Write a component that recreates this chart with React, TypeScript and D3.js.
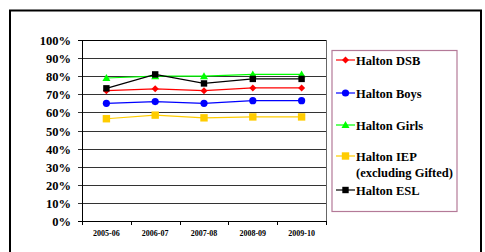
import React from 'react';
import * as d3 from 'd3';

const years = ['2005-06', '2006-07', '2007-08', '2008-09', '2009-10'];
const dsb = [72, 73, 72, 73.5, 73.5];
const boys = [65, 66, 65, 66.5, 66.5];
const girls = [79, 80, 80, 81, 81];
const iep = [56.5, 58.5, 57, 57.5, 57.5];
const esl = [73.3, 81, 76, 78.5, 78.5];
const yTicks = [0, 10, 20, 30, 40, 50, 60, 70, 80, 90, 100];

const series = [
  { name: ['Halton DSB'], values: dsb, color: '#ff0000', shape: 'diamond', ly: 60 },
  { name: ['Halton Boys'], values: boys, color: '#0000ff', shape: 'circle', ly: 93 },
  { name: ['Halton Girls'], values: girls, color: '#00ff00', shape: 'triangle', ly: 125 },
  { name: ['Halton IEP', '(excluding Gifted)'], values: iep, color: '#ffcc00', shape: 'square', ly: 156 },
  { name: ['Halton ESL'], values: esl, color: '#000000', shape: 'square2', ly: 190 },
];

const left = 82;
const right = 326;
const top = 40;
const bottom = 221;
const font = '"Liberation Serif", "Times New Roman", serif';

function Marker({ shape, x, y, color }: { shape: string; x: number; y: number; color: string }) {
  if (shape === 'diamond') {
    return <path d={`M${x},${y - 3.5}L${x + 3.5},${y}L${x},${y + 3.5}L${x - 3.5},${y}Z`} fill={color} />;
  }
  if (shape === 'circle') {
    return <circle cx={x} cy={y} r={3.6} fill={color} />;
  }
  if (shape === 'triangle') {
    return <path d={`M${x},${y - 4}L${x + 4},${y + 3}L${x - 4},${y + 3}Z`} fill={color} />;
  }
  if (shape === 'square') {
    return <rect x={x - 3.7} y={y - 3.7} width={7.4} height={7.4} fill={color} />;
  }
  return <rect x={x - 3.2} y={y - 3.2} width={6.4} height={6.4} fill={color} />;
}

export default function App() {
  const xScale = d3.scaleBand().domain(years).range([left, right]);
  const yScale = d3.scaleLinear().domain([0, 100]).range([bottom, top]);
  const line = d3
    .line<number>()
    .x((d, i) => (xScale(years[i]) as number) + xScale.bandwidth() / 2)
    .y((d) => yScale(d));

  const boundaries = years.map((y) => xScale(y) as number).concat([right]);

  return (
    <svg width={485} height={252} style={{ position: 'absolute', left: 0, top: 0 }} fontFamily={font}>
      <rect x={0} y={0} width={485} height={252} fill='#fff' />
      <rect x={10} y={10.5} width={471} height={260} fill='none' stroke='#000' strokeWidth={2} />

      {yTicks.map((t) => (
        <g key={t}>
          <line
            x1={left - 4}
            x2={right}
            y1={Math.round(yScale(t)) + 0.5}
            y2={Math.round(yScale(t)) + 0.5}
            stroke={t === 0 || t === 100 ? '#000' : '#333'}
            strokeWidth={1}
          />
          <text
            x={71}
            y={Math.round(yScale(t)) + 4.5}
            textAnchor='end'
            fontSize={12.5}
            fontWeight='bold'
          >
            {t + '%'}
          </text>
        </g>
      ))}
      <line x1={left + 0.5} x2={left + 0.5} y1={top} y2={bottom + 1} stroke='#000' />
      <line x1={right + 0.5} x2={right + 0.5} y1={top} y2={bottom + 1} stroke='#666' />
      {boundaries.map((b, i) => (
        <line key={i} x1={Math.round(b) + 0.5} x2={Math.round(b) + 0.5} y1={bottom} y2={bottom + 4} stroke='#000' />
      ))}
      {years.map((y) => (
        <text
          key={y}
          x={(xScale(y) as number) + xScale.bandwidth() / 2}
          y={236}
          textAnchor='middle'
          fontSize={8}
          fontWeight='bold'
        >
          {y}
        </text>
      ))}

      {series.map((s) => (
        <g key={s.name[0]}>
          <path d={line(s.values) || ''} fill='none' stroke={s.color} strokeWidth={1.2} />
          {s.values.map((v, i) => (
            <Marker
              key={i}
              shape={s.shape}
              x={(xScale(years[i]) as number) + xScale.bandwidth() / 2}
              y={yScale(v)}
              color={s.color}
            />
          ))}
        </g>
      ))}

      <rect x={332} y={50.5} width={125} height={161} fill='#fff' stroke='#b47a98' strokeWidth={1.2} />
      {series.map((s) => (
        <g key={'l' + s.name[0]}>
          <line x1={336} x2={355} y1={s.ly} y2={s.ly} stroke={s.color} strokeWidth={1.2} />
          <Marker shape={s.shape} x={345.5} y={s.ly} color={s.color} />
          {s.name.map((n, j) => (
            <text key={j} x={356} y={s.ly + 4.5 + j * 16} fontSize={12.5} fontWeight='bold'>
              {n}
            </text>
          ))}
        </g>
      ))}
    </svg>
  );
}
